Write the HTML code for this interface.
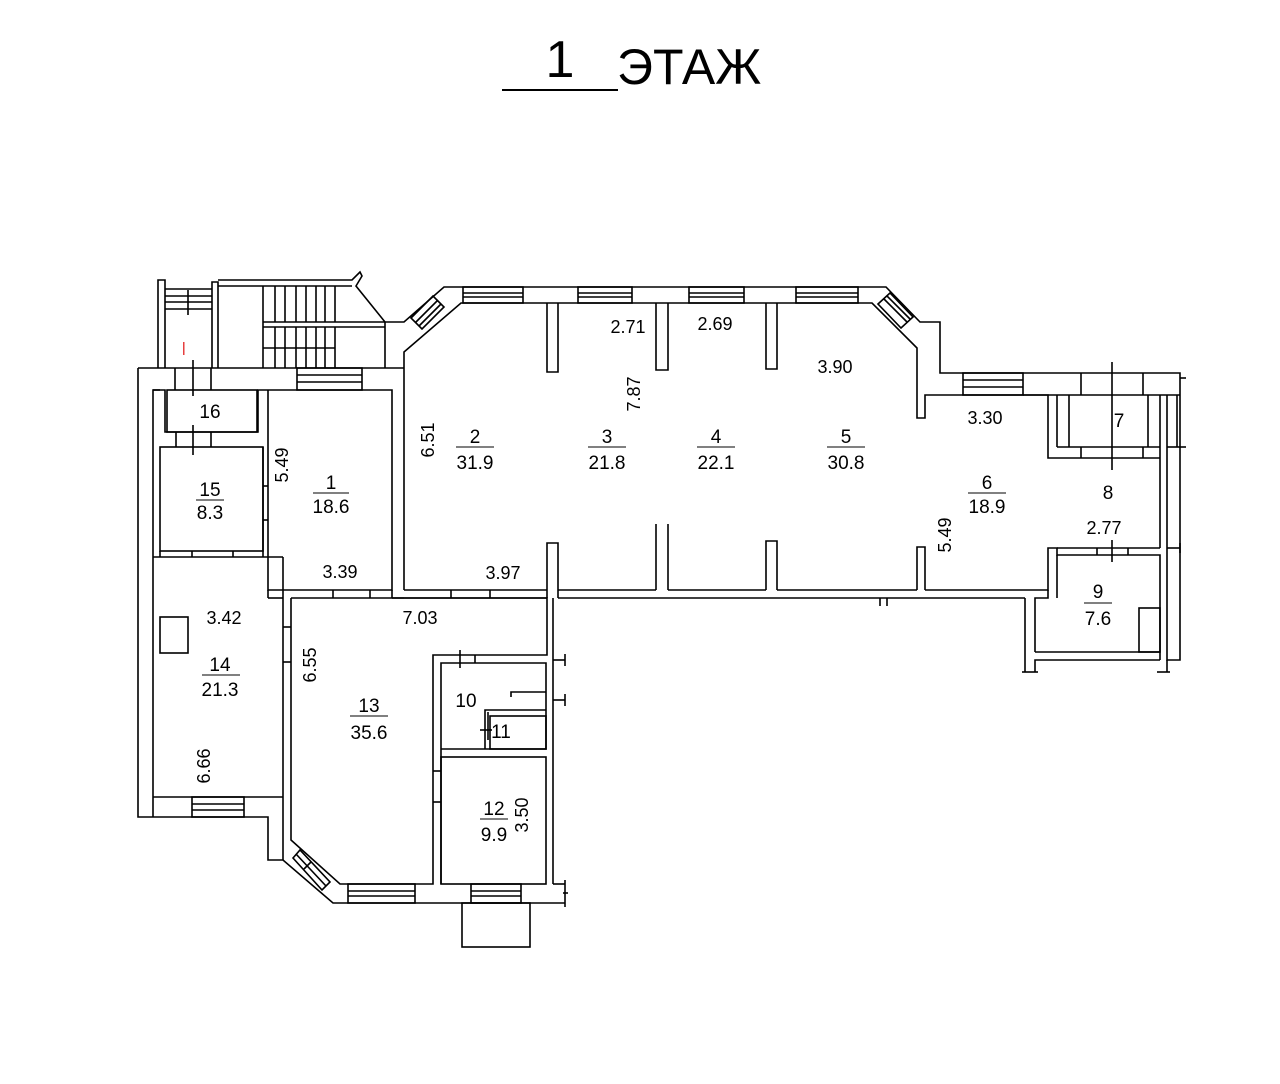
<!DOCTYPE html>
<html><head><meta charset="utf-8"><style>
html,body{margin:0;padding:0;background:#fff;}
svg{display:block;}
text{font-family:"Liberation Sans",sans-serif;fill:#000;}
</style></head><body>
<svg width="1280" height="1084" viewBox="0 0 1280 1084" xmlns="http://www.w3.org/2000/svg">
<rect width="1280" height="1084" fill="#fff"/>
<!-- title -->
<text x="560" y="77" font-size="52" text-anchor="middle">1</text>
<line x1="502" y1="90" x2="618" y2="90" stroke="#000" stroke-width="2"/>
<text x="617" y="84" font-size="50">ЭТАЖ</text>

<g fill="none" stroke="#000" stroke-width="1.6">
<!-- stairwell -->
<polyline points="158,368 158,280 165,280 165,368"/>
<polyline points="212,368 212,282 218,282 218,368"/>
<polyline points="218,280 352,280 360,272 362,276 356,286 385,322 385,368"/>
<line x1="218" y1="286" x2="352" y2="286"/>
<polyline points="165,289 212,289"/><line x1="165" y1="296" x2="212" y2="296"/><line x1="165" y1="302" x2="212" y2="302"/><line x1="165" y1="309" x2="212" y2="309"/>
<line x1="188" y1="290" x2="188" y2="315"/>
<line x1="263" y1="322" x2="385" y2="322"/><line x1="263" y1="327" x2="385" y2="327"/>
<line x1="263" y1="286" x2="263" y2="368"/>
<g>
<line x1="275" y1="286" x2="275" y2="322"/><line x1="285" y1="286" x2="285" y2="322"/><line x1="296" y1="286" x2="296" y2="322"/><line x1="306" y1="286" x2="306" y2="322"/><line x1="316" y1="286" x2="316" y2="322"/><line x1="325" y1="286" x2="325" y2="322"/><line x1="335" y1="286" x2="335" y2="322"/>
<line x1="275" y1="327" x2="275" y2="368"/><line x1="285" y1="327" x2="285" y2="368"/><line x1="296" y1="327" x2="296" y2="368"/><line x1="306" y1="327" x2="306" y2="368"/><line x1="316" y1="327" x2="316" y2="368"/><line x1="325" y1="327" x2="325" y2="368"/><line x1="335" y1="327" x2="335" y2="368"/>
<line x1="263" y1="348" x2="335" y2="348"/>
</g>
<polyline points="138,368 138,817 268,817 268,860 283,860 333,903 565,903"/>
<line x1="138" y1="368" x2="404" y2="368"/>
<polyline points="385,322 404,322 444,287 886,287 920,322 940,322 940,373 1180,373 1180,660 1167,660 1167,458"/>
<polyline points="153,817 153,390 165,390 165,432 258,432 258,390 268,390"/>
<line x1="153" y1="390" x2="160" y2="390"/>
<rect x="167" y="390" width="90" height="42"/>
<line x1="175" y1="368" x2="175" y2="390"/><line x1="211" y1="368" x2="211" y2="390"/>
<line x1="193" y1="360" x2="193" y2="396"/>
<line x1="176" y1="432" x2="176" y2="447"/><line x1="211" y1="432" x2="211" y2="447"/>
<line x1="193" y1="425" x2="193" y2="455"/>
<rect x="160" y="447" width="103" height="104"/>
<line x1="263" y1="486" x2="268" y2="486"/><line x1="263" y1="520" x2="268" y2="520"/>
<line x1="153" y1="557" x2="283" y2="557"/>
<line x1="160" y1="551" x2="160" y2="557"/>
<line x1="192" y1="551" x2="192" y2="557"/><line x1="233" y1="551" x2="233" y2="557"/>
<polyline points="268,390 392,390 392,590 268,590 268,390"/>
<polyline points="263,447 263,557"/>
<polyline points="283,557 283,860"/>
<rect x="297" y="368" width="65" height="22"/>
<line x1="297" y1="375" x2="362" y2="375"/><line x1="297" y1="382" x2="362" y2="382"/>
<rect x="160" y="617" width="28" height="36"/>
<line x1="153" y1="797" x2="283" y2="797"/>
<rect x="192" y="797" width="52" height="20"/>
<line x1="192" y1="804" x2="244" y2="804"/><line x1="192" y1="810" x2="244" y2="810"/>
<polyline points="291,598 291,840 340,884 433,884 433,655 547,655 547,598 291,598"/>
<line x1="283" y1="627" x2="291" y2="627"/><line x1="283" y1="662" x2="291" y2="662"/>
<line x1="268" y1="598" x2="283" y2="598"/><line x1="268" y1="590" x2="268" y2="598"/>
<line x1="392" y1="590" x2="392" y2="598"/>
<line x1="333" y1="590" x2="333" y2="598"/><line x1="370" y1="590" x2="370" y2="598"/>
<polygon points="293,858 300,850 330,882 322,890"/>
<line x1="296" y1="854" x2="326" y2="886"/><line x1="311" y1="862" x2="304" y2="869"/>
<rect x="348" y="884" width="67" height="19"/><line x1="348" y1="891" x2="415" y2="891"/><line x1="348" y1="896" x2="415" y2="896"/>
<rect x="471" y="884" width="50" height="19"/><line x1="471" y1="891" x2="521" y2="891"/><line x1="471" y1="896" x2="521" y2="896"/>
<line x1="565" y1="884" x2="553" y2="884"/>
<line x1="565" y1="880" x2="565" y2="907"/><line x1="563" y1="893" x2="568" y2="893"/>
<rect x="462" y="903" width="68" height="44"/>
<polyline points="441,884 441,663 546,663 546,749 441,749"/>
<rect x="441" y="757" width="105" height="127"/>
<line x1="433" y1="771" x2="441" y2="771"/><line x1="433" y1="802" x2="441" y2="802"/>
<line x1="475" y1="655" x2="475" y2="663"/><line x1="460" y1="650" x2="460" y2="668"/>
<polyline points="511,697 511,692 546,692"/>
<polyline points="485,749 485,710 546,710"/>
<rect x="490" y="716" width="56" height="33"/>
<line x1="480" y1="730" x2="492" y2="730"/><line x1="488" y1="712" x2="488" y2="740"/>
<polyline points="553,598 553,884"/>
<line x1="553" y1="660" x2="565" y2="660"/><line x1="565" y1="654" x2="565" y2="666"/>
<line x1="553" y1="700" x2="565" y2="700"/><line x1="565" y1="694" x2="565" y2="706"/>
<polyline points="404,590 404,352 461,303 872,303 917,348 917,418 925,418 925,395 1048,395 1048,458 1057,458"/>
<line x1="404" y1="590" x2="547" y2="590"/>
<line x1="404" y1="598" x2="547" y2="598"/>
<line x1="392" y1="598" x2="404" y2="598"/>
<line x1="451" y1="590" x2="451" y2="598"/><line x1="490" y1="590" x2="490" y2="598"/>
<polyline points="547,598 547,543 558,543 558,598"/>
<polyline points="547,303 547,372 558,372 558,303"/>
<polyline points="656,303 656,370 668,370 668,303"/>
<polyline points="766,303 766,369 777,369 777,303"/>
<polyline points="656,590 656,524"/><polyline points="668,524 668,590"/>
<polyline points="766,590 766,541 777,541 777,590"/>
<polyline points="917,590 917,547 925,547 925,590"/>
<polyline points="558,590 656,590"/><polyline points="668,590 766,590"/><polyline points="777,590 917,590"/><polyline points="925,590 1048,590 1048,548 1057,548 1057,555 1160,555 1160,660"/>
<line x1="558" y1="598" x2="1025" y2="598"/>
<polyline points="1025,598 1025,672"/>
<polyline points="1035,672 1035,660 1160,660"/>
<line x1="1035" y1="652" x2="1160" y2="652"/>
<polyline points="1035,652 1035,598 1048,598 1048,590"/>
<line x1="1057" y1="555" x2="1057" y2="598"/>
<rect x="1139" y="608" width="21" height="44"/>
<line x1="1057" y1="548" x2="1160" y2="548"/>
<line x1="1160" y1="548" x2="1160" y2="458"/>
<line x1="1097" y1="548" x2="1097" y2="555"/><line x1="1128" y1="548" x2="1128" y2="555"/>
<line x1="1112" y1="540" x2="1112" y2="562"/>
<line x1="1167" y1="548" x2="1180" y2="548"/><line x1="1180" y1="543" x2="1180" y2="553"/>
<line x1="1022" y1="672" x2="1038" y2="672"/><line x1="1157" y1="672" x2="1170" y2="672"/><line x1="1167" y1="660" x2="1167" y2="672"/>
<line x1="880" y1="598" x2="880" y2="606"/><line x1="887" y1="598" x2="887" y2="606"/>
<rect x="463" y="287" width="60" height="16"/><line x1="463" y1="293" x2="523" y2="293"/><line x1="463" y1="297" x2="523" y2="297"/>
<rect x="578" y="287" width="54" height="16"/><line x1="578" y1="293" x2="632" y2="293"/><line x1="578" y1="297" x2="632" y2="297"/>
<rect x="689" y="287" width="55" height="16"/><line x1="689" y1="293" x2="744" y2="293"/><line x1="689" y1="297" x2="744" y2="297"/>
<rect x="796" y="287" width="62" height="16"/><line x1="796" y1="293" x2="858" y2="293"/><line x1="796" y1="297" x2="858" y2="297"/>
<polygon points="411,318 433,296 444,307 422,329"/><line x1="416" y1="322" x2="438" y2="300"/><line x1="419" y1="326" x2="441" y2="304"/>
<polygon points="878,304 890,293 913,317 901,328"/><line x1="884" y1="299" x2="907" y2="322"/><line x1="887" y1="296" x2="910" y2="319"/>
<rect x="963" y="373" width="60" height="22"/><line x1="963" y1="380" x2="1023" y2="380"/><line x1="963" y1="387" x2="1023" y2="387"/>
<line x1="1023" y1="395" x2="1048" y2="395"/>
<line x1="1081" y1="373" x2="1081" y2="395"/><line x1="1143" y1="373" x2="1143" y2="395"/>
<line x1="1057" y1="395" x2="1057" y2="447"/><line x1="1069" y1="395" x2="1069" y2="447"/>
<line x1="1148" y1="395" x2="1148" y2="447"/><line x1="1160" y1="395" x2="1160" y2="458"/><line x1="1167" y1="395" x2="1167" y2="458"/><line x1="1177" y1="395" x2="1177" y2="447"/>
<line x1="1057" y1="447" x2="1160" y2="447"/><line x1="1057" y1="458" x2="1160" y2="458"/>
<line x1="1048" y1="395" x2="1180" y2="395"/>
<line x1="1081" y1="447" x2="1081" y2="458"/><line x1="1143" y1="447" x2="1143" y2="458"/>
<line x1="1112" y1="362" x2="1112" y2="470"/>
<line x1="1167" y1="447" x2="1180" y2="447"/>
<line x1="1180" y1="378" x2="1186" y2="378"/><line x1="1180" y1="447" x2="1186" y2="447"/>
</g>
<text x="182" y="352" font-size="14" style="fill:#d00">|</text>

<g font-size="19">
<text x="210" y="418" text-anchor="middle">16</text>
<text x="210" y="496" text-anchor="middle">15</text><text x="210" y="519" text-anchor="middle">8.3</text>
<line x1="196" y1="500" x2="224" y2="500" stroke="#000"/>
<text x="331" y="489" text-anchor="middle">1</text><text x="331" y="513" text-anchor="middle">18.6</text>
<line x1="313" y1="493" x2="349" y2="493" stroke="#000"/>
<text x="475" y="443" text-anchor="middle">2</text><text x="475" y="469" text-anchor="middle">31.9</text>
<line x1="456" y1="447" x2="494" y2="447" stroke="#000"/>
<text x="607" y="443" text-anchor="middle">3</text><text x="607" y="469" text-anchor="middle">21.8</text>
<line x1="588" y1="447" x2="626" y2="447" stroke="#000"/>
<text x="716" y="443" text-anchor="middle">4</text><text x="716" y="469" text-anchor="middle">22.1</text>
<line x1="697" y1="447" x2="735" y2="447" stroke="#000"/>
<text x="846" y="443" text-anchor="middle">5</text><text x="846" y="469" text-anchor="middle">30.8</text>
<line x1="827" y1="447" x2="865" y2="447" stroke="#000"/>
<text x="1119" y="427" text-anchor="middle">7</text>
<text x="1108" y="499" text-anchor="middle">8</text>
<text x="987" y="489" text-anchor="middle">6</text><text x="987" y="513" text-anchor="middle">18.9</text>
<line x1="968" y1="493" x2="1006" y2="493" stroke="#000"/>
<text x="1098" y="598" text-anchor="middle">9</text><text x="1098" y="625" text-anchor="middle">7.6</text>
<line x1="1084" y1="603" x2="1112" y2="603" stroke="#000"/>
<text x="220" y="671" text-anchor="middle">14</text><text x="220" y="696" text-anchor="middle">21.3</text>
<line x1="202" y1="675" x2="240" y2="675" stroke="#000"/>
<text x="369" y="712" text-anchor="middle">13</text><text x="369" y="739" text-anchor="middle">35.6</text>
<line x1="350" y1="716" x2="388" y2="716" stroke="#000"/>
<text x="466" y="707" text-anchor="middle">10</text>
<text x="501" y="738" text-anchor="middle">11</text>
<text x="494" y="815" text-anchor="middle">12</text><text x="494" y="841" text-anchor="middle">9.9</text>
<line x1="480" y1="819" x2="508" y2="819" stroke="#000"/>
</g>
<g font-size="18">
<text x="340" y="578" text-anchor="middle">3.39</text>
<text x="628" y="333" text-anchor="middle">2.71</text>
<text x="715" y="330" text-anchor="middle">2.69</text>
<text x="835" y="373" text-anchor="middle">3.90</text>
<text x="503" y="579" text-anchor="middle">3.97</text>
<text x="985" y="424" text-anchor="middle">3.30</text>
<text x="1104" y="534" text-anchor="middle">2.77</text>
<text x="224" y="624" text-anchor="middle">3.42</text>
<text x="420" y="624" text-anchor="middle">7.03</text>
<text transform="translate(434,440) rotate(-90)" text-anchor="middle">6.51</text>
<text transform="translate(288,465) rotate(-90)" text-anchor="middle">5.49</text>
<text transform="translate(640,394) rotate(-90)" text-anchor="middle">7.87</text>
<text transform="translate(951,535) rotate(-90)" text-anchor="middle">5.49</text>
<text transform="translate(316,665) rotate(-90)" text-anchor="middle">6.55</text>
<text transform="translate(210,766) rotate(-90)" text-anchor="middle">6.66</text>
<text transform="translate(528,815) rotate(-90)" text-anchor="middle">3.50</text>
</g>
</svg>
</body></html>
